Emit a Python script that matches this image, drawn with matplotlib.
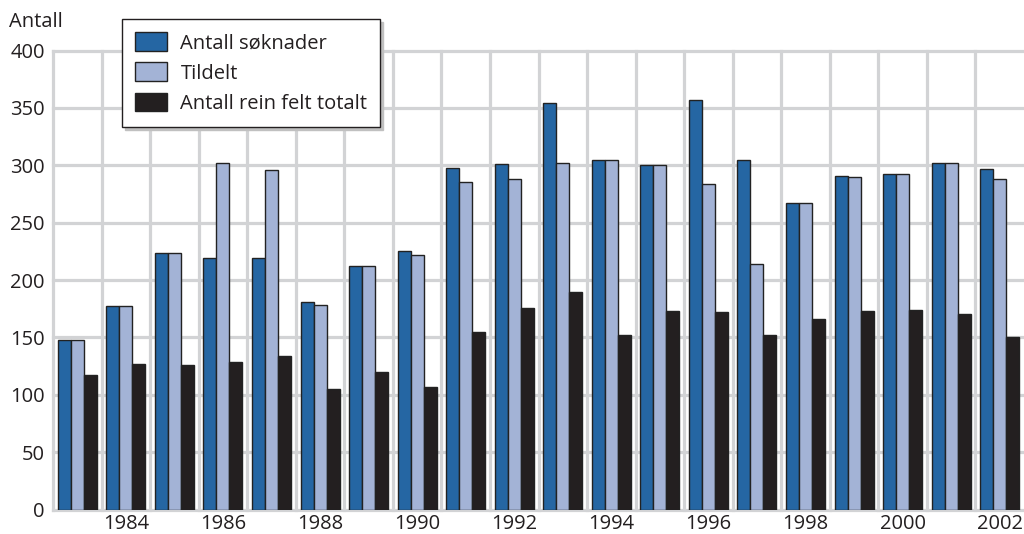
import matplotlib
matplotlib.use("Agg")
import matplotlib.pyplot as plt
import numpy as np

years = list(range(1983, 2003))
soknader = [148, 177, 224, 219, 219, 181, 212, 225, 298, 301, 354, 305, 300, 357, 305, 267, 291, 292, 302, 297]
tildelt = [148, 177, 224, 302, 296, 178, 212, 222, 285, 288, 302, 305, 300, 284, 214, 267, 290, 292, 302, 288]
rein_felt = [117, 127, 126, 129, 134, 105, 120, 107, 155, 176, 190, 152, 173, 172, 152, 166, 173, 174, 170, 150]
series_names = ["Antall søknader", "Tildelt", "Antall rein felt totalt"]
colors = ["#2566a3", "#a3b3d6", "#231f20"]
yticks = [0, 50, 100, 150, 200, 250, 300, 350, 400]
xtick_labels = [str(y) for y in years if y % 2 == 0]

FS = 14.5
plt.rcParams['font.family'] = ['Open Sans', 'DejaVu Sans']
fig = plt.figure(figsize=(10.24, 5.34), dpi=100)
ax = fig.add_axes([53/1024, 24.4/534, 1 - 53/1024, (509.6 - 50.5)/534])

x = np.arange(len(years))
w = 0.268
grid_c = "#d2d3d5"
for i, (vals, c, name) in enumerate(zip([soknader, tildelt, rein_felt], colors, series_names)):
    ax.bar(x + (i - 1) * w, vals, width=w, color=c, edgecolor="#222222", linewidth=1.0,
           label=name, zorder=3)

ax.set_xlim(-0.5, len(years) - 0.5)
ax.set_ylim(0, 400)
ax.set_yticks(yticks)
ax.set_yticklabels([str(v) for v in yticks])
ax.set_xticks([i for i, y in enumerate(years) if y % 2 == 0])
ax.set_xticklabels(xtick_labels)
ax.tick_params(axis='both', length=0, labelsize=FS, colors="#231f20")
ax.tick_params(axis='y', pad=6)
ax.tick_params(axis='x', pad=3)

for v in yticks:
    ax.axhline(v, color=grid_c, lw=2.3, zorder=1, clip_on=False)
for b in np.arange(-0.5, len(years) - 1, 1.0):
    ax.axvline(b, color=grid_c, lw=2.3, zorder=1, clip_on=False)

for s in ax.spines.values():
    s.set_visible(False)

fig.text(9/1024, 1 - 22/534, "Antall", fontsize=FS, color="#231f20", va="center", ha="left")

leg = ax.legend(loc="upper left", bbox_to_anchor=(122/1024, 1 - 19/534),
                bbox_transform=fig.transFigure, fontsize=FS, frameon=True,
                fancybox=False, shadow={'color': '#c0c0c0', 'alpha': 1},
                edgecolor="#231f20", framealpha=1, borderpad=0.65,
                handlelength=1.6, handleheight=1.05, handletextpad=0.65,
                labelspacing=0.45, borderaxespad=0)
leg.get_frame().set_linewidth(1.0)
for t in leg.get_texts():
    t.set_color("#231f20")
leg.set_zorder(10)

fig.savefig("out.png", dpi=100)
